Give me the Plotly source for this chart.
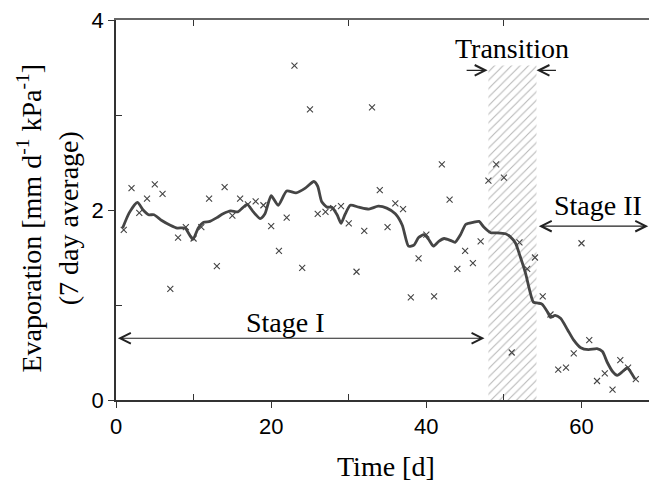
import plotly.graph_objects as go

# Daily evaporation values (crosses)
days = list(range(1, 68))
daily_evap = [1.79, 2.23, 1.97, 2.12, 2.27, 2.17, 1.17, 1.71, 1.82, 1.70,
              1.82, 2.12, 1.41, 2.24, 1.94, 2.12, 2.06, 2.09, 2.05, 1.83,
              1.57, 1.92, 3.52, 1.39, 3.06, 1.96, 1.98, 2.02, 2.04, 1.86,
              1.35, 1.78, 3.08, 2.21, 1.82, 2.07, 2.01, 1.08, 1.49, 1.74,
              1.09, 2.48, 2.11, 1.38, 1.57, 1.44, 1.67, 2.31, 2.48, 2.34,
              0.50, 1.66, 1.38, 1.50, 1.09, 0.90, 0.32, 0.34, 0.49, 1.65,
              0.63, 0.20, 0.28, 0.11, 0.42, 0.34, 0.22]

# 7-day average (smoothed curve)
avg_t = [0.86, 1.7, 2.75, 3.5, 4.2, 4.9, 5.9, 7.0, 7.9, 8.9, 9.9, 10.6, 11.3, 12.1,
         13.0, 13.8, 14.8, 15.7, 16.9, 17.7, 18.6, 19.2, 20.0, 20.9, 22.0, 23.2,
         24.4, 25.5, 26.0, 26.5, 27.2, 27.8, 28.5, 29.0, 29.5, 30.2, 31.3, 32.6,
         33.8, 34.9, 36.0, 36.9, 37.7, 38.4, 39.0, 39.7, 40.3, 40.9, 41.6, 42.3,
         43.1, 43.7, 44.4, 45.1, 46.0, 46.8, 47.4, 48.3, 49.1, 50.2, 50.8, 51.5,
         52.1, 52.8, 53.3, 53.8, 54.4, 54.9, 55.6, 56.0, 56.6, 57.3, 58.2, 59.0,
         59.9, 60.9, 62.0, 62.7, 63.3, 64.0, 64.6, 65.3, 65.9, 66.3, 66.9]
avg_evap = [1.81, 1.97, 2.08, 2.00, 1.95, 1.95, 1.89, 1.84, 1.81, 1.81, 1.69, 1.81,
            1.87, 1.88, 1.92, 1.96, 1.99, 1.98, 2.06, 1.98, 1.91, 1.96, 2.15, 2.05,
            2.20, 2.18, 2.23, 2.30, 2.25, 2.09, 2.03, 2.03, 1.95, 1.86, 1.95, 2.05,
            2.03, 2.01, 2.04, 2.02, 1.96, 1.84, 1.62, 1.63, 1.71, 1.74, 1.69, 1.62,
            1.67, 1.70, 1.68, 1.66, 1.74, 1.85, 1.87, 1.88, 1.82, 1.76, 1.76, 1.75,
            1.72, 1.65, 1.51, 1.33, 1.16, 1.03, 1.02, 1.01, 0.93, 0.87, 0.89, 0.86,
            0.74, 0.63, 0.55, 0.53, 0.54, 0.51, 0.40, 0.30, 0.26, 0.30, 0.34, 0.30,
            0.22]

# Stage bounds
transition_start = 48.0
transition_end = 54.2
transition_top = 3.52
x_max = 68.7
y_max = 4.0

x_ticks = [0, 20, 40, 60]
y_ticks = [0, 2, 4]

SERIF = "Liberation Serif"
SANS = "Liberation Sans"
INK = "#333333"

fig = go.Figure()

# Hatched transition zone
fig.add_trace(go.Scatter(
    x=[transition_start, transition_end, transition_end, transition_start, transition_start],
    y=[0, 0, transition_top, transition_top, 0],
    fill="toself", mode="lines", line=dict(width=0),
    fillcolor="rgba(0,0,0,0)",
    fillpattern=dict(shape="/", fgcolor="#6f6f6f", bgcolor="white", size=6, solidity=0.18),
    hoverinfo="skip", showlegend=False))

# Daily crosses
fig.add_trace(go.Scatter(
    x=days, y=daily_evap, mode="markers",
    marker=dict(symbol="x-thin", size=6, line=dict(width=1.1, color="#444444")),
    showlegend=False))

# 7-day average line
fig.add_trace(go.Scatter(
    x=avg_t, y=avg_evap, mode="lines",
    line=dict(color="#454545", width=2.8, shape="spline", smoothing=0.6),
    showlegend=False))

# Top axis with inner minor ticks
fig.add_trace(go.Scatter(x=[0], y=[0], xaxis="x2", mode="markers",
                         marker=dict(opacity=0), showlegend=False, hoverinfo="skip"))

fig.update_layout(
    width=649, height=483,
    margin=dict(l=116, r=0, t=20, b=83),
    paper_bgcolor="white", plot_bgcolor="white",
    xaxis=dict(range=[0, x_max], tickvals=x_ticks, ticks="outside", ticklen=6,
               tickcolor=INK, showline=True, linecolor=INK, linewidth=1.5,
               showgrid=False, zeroline=False,
               tickfont=dict(family=SANS, size=22, color="black"),
               minor=dict(tickvals=[10, 30, 50], ticks="inside", ticklen=6, tickcolor=INK)),
    xaxis2=dict(range=[0, x_max], overlaying="x", side="top", showline=True,
                linecolor="#666666", linewidth=2, tickvals=[10, 30, 50],
                ticks="inside", ticklen=6, tickcolor=INK, showticklabels=False,
                showgrid=False, zeroline=False),
    yaxis=dict(range=[0, y_max], tickvals=y_ticks, ticks="outside", ticklen=6,
               tickcolor=INK, showline=True, linecolor=INK, linewidth=1.5,
               showgrid=False, zeroline=False,
               tickfont=dict(family=SANS, size=22, color="black"),
               minor=dict(tickvals=[1, 3], ticks="inside", ticklen=6, tickcolor=INK)),
)

ann_font = dict(family=SERIF, size=28, color="black")

annotations = [
    # Axis titles
    dict(text="Evaporation [mm d<sup>-1</sup> kPa<sup>-1</sup>]<br>(7 day average)",
         xref="paper", yref="paper", x=-0.1276, y=0.48, textangle=-90,
         xanchor="center", yanchor="middle", showarrow=False, font=ann_font),
    dict(text="Time [d]", xref="paper", yref="paper", x=0.506, y=-0.176,
         xanchor="center", yanchor="middle", showarrow=False, font=ann_font),
    # Stage labels
    dict(text="Transition", x=51.0, y=3.705, showarrow=False, font=ann_font),
    dict(text="Stage II", x=62.1, y=2.05, showarrow=False, font=ann_font),
    dict(text="Stage I", x=21.8, y=0.82, showarrow=False, font=ann_font),
    # Arrows
    dict(x=47.9, y=3.47, ax=45.0, ay=3.47, axref="x", ayref="y",
         showarrow=True, arrowhead=5, arrowsize=1.9, arrowwidth=1.1, arrowcolor="#222", text=""),
    dict(x=54.2, y=3.47, ax=56.9, ay=3.47, axref="x", ayref="y",
         showarrow=True, arrowhead=5, arrowsize=1.9, arrowwidth=1.1, arrowcolor="#222", text=""),
    dict(x=68.6, y=1.83, ax=54.3, ay=1.83, axref="x", ayref="y",
         showarrow=True, arrowhead=5, startarrowhead=5, arrowside="end+start",
         arrowsize=1.9, startarrowsize=1.9, arrowwidth=1.1, arrowcolor="#222", text=""),
    dict(x=47.5, y=0.65, ax=0.05, ay=0.65, axref="x", ayref="y",
         showarrow=True, arrowhead=5, startarrowhead=5, arrowside="end+start",
         arrowsize=1.9, startarrowsize=1.9, arrowwidth=1.1, arrowcolor="#222", text=""),
]
fig.update_layout(annotations=annotations)

fig.write_html("out.html")
